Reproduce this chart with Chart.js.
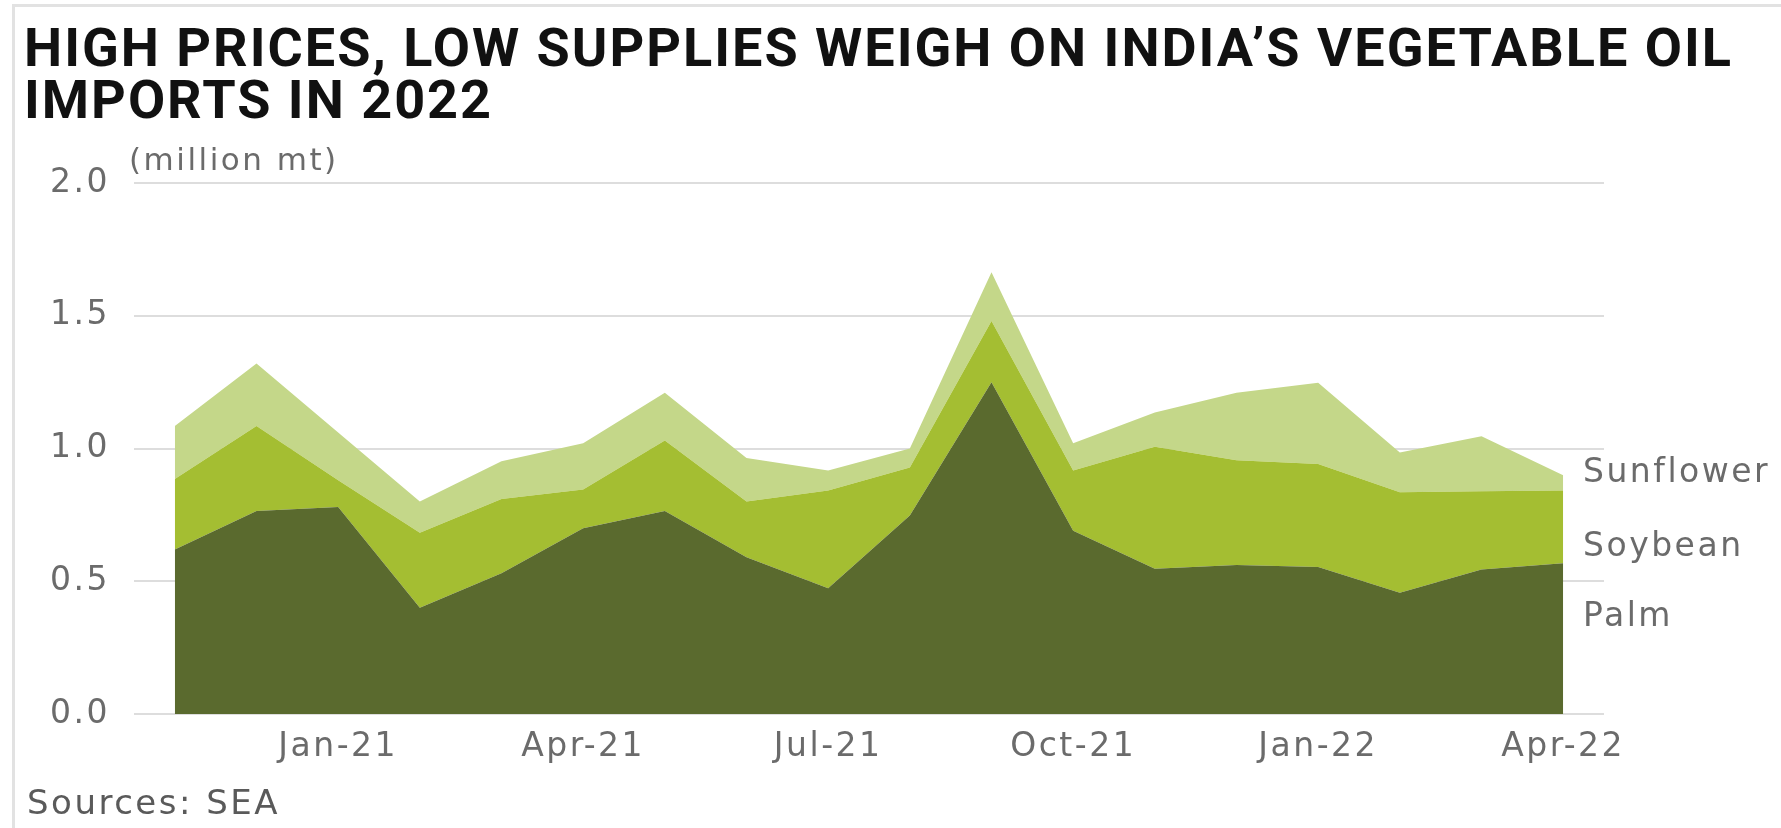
<!DOCTYPE html>
<html>
<head>
<meta charset="utf-8">
<title>India vegetable oil imports</title>
<script src="https://cdn.jsdelivr.net/npm/chart.js@4/dist/chart.umd.min.js"></script>
<style>
  html, body { margin: 0; padding: 0; background: #fff; }
  body { width: 1781px; height: 828px; position: relative; overflow: hidden; }
  .frame {
    position: absolute; left: 12px; top: 4px; right: -10px; bottom: -10px;
    border-top: 3px solid #e2e2e2; border-left: 3px solid #e2e2e2;
  }
  .title {
    position: absolute; left: 24px; top: 22px; margin: 0;
    font: 700 54px/52px Roboto, sans-serif; letter-spacing: 2px; color: #111;
  }
  .source {
    position: absolute; left: 27px; top: 782px;
    font: 34px "DejaVu Sans", sans-serif; letter-spacing: 2.5px; color: #5a5a5a;
  }
  #chart { position: absolute; left: 0; top: 0; }
</style>
</head>
<body>
<div class="frame"></div>
<h1 class="title">HIGH PRICES, LOW SUPPLIES WEIGH ON INDIA’S VEGETABLE OIL<br>IMPORTS IN 2022</h1>
<canvas id="chart" width="1781" height="828"></canvas>
<div class="source">Sources: SEA</div>

<script>
// monthly imports, million mt
const months = ['Nov-20', 'Dec-20', 'Jan-21', 'Feb-21', 'Mar-21', 'Apr-21', 'May-21', 'Jun-21', 'Jul-21',
                'Aug-21', 'Sep-21', 'Oct-21', 'Nov-21', 'Dec-21', 'Jan-22', 'Feb-22', 'Mar-22', 'Apr-22'];
const palm      = [0.62, 0.765, 0.78, 0.40, 0.53, 0.70, 0.765, 0.59, 0.474, 0.748, 1.25, 0.69, 0.547, 0.561, 0.554, 0.457, 0.544, 0.568];
const soybean   = [0.265, 0.32, 0.10, 0.283, 0.28, 0.146, 0.265, 0.21, 0.368, 0.18, 0.23, 0.227, 0.46, 0.395, 0.388, 0.378, 0.295, 0.274];
const sunflower = [0.20, 0.235, 0.18, 0.117, 0.142, 0.174, 0.18, 0.164, 0.075, 0.072, 0.184, 0.103, 0.129, 0.254, 0.306, 0.15, 0.207, 0.057];
const shownTicks = ['Jan-21', 'Apr-21', 'Jul-21', 'Oct-21', 'Jan-22', 'Apr-22'];
const yTicks = [0, 0.5, 1.0, 1.5, 2.0];

const FONT = '"DejaVu Sans", sans-serif';
const GREY = '#6b6b6b';

const area = (label, data, color, fill) => ({
  label, data, fill,
  backgroundColor: color,
  borderWidth: 0,
  pointRadius: 0,
  tension: 0
});

// wide tracking for every canvas text
const spacing = {
  id: 'spacing',
  beforeUpdate(chart) { chart.ctx.letterSpacing = '2.5px'; },
  beforeDraw(chart) { chart.ctx.letterSpacing = '2.5px'; }
};

// unit caption + series names at the right end
const labels = {
  id: 'labels',
  afterDraw(chart) {
    const { ctx, scales: { y } } = chart;
    ctx.save();
    ctx.letterSpacing = '2.5px';
    ctx.fillStyle = GREY;
    ctx.textBaseline = 'alphabetic';
    ctx.font = `31px ${FONT}`;
    ctx.fillText('(million mt)', 129, 170);
    ctx.font = `33px ${FONT}`;
    [['Sunflower', 0.872], ['Soybean', 0.594], ['Palm', 0.331]].forEach(([t, v]) => {
      ctx.fillText(t, 1583, y.getPixelForValue(v));
    });
    ctx.restore();
  }
};

new Chart(document.getElementById('chart'), {
  type: 'line',
  data: {
    labels: months,
    datasets: [
      area('Palm', palm, '#5a6a2e', 'origin'),
      area('Soybean', soybean, '#a4be32', '-1'),
      area('Sunflower', sunflower, '#c4d789', '-1')
    ]
  },
  options: {
    responsive: false,
    animation: false,
    events: [],
    layout: { padding: { top: 183, right: 177, left: 0, bottom: 0 } },
    plugins: { legend: { display: false }, tooltip: { enabled: false } },
    scales: {
      x: {
        offset: true,
        grid: { display: false, drawTicks: false },
        border: { display: false },
        afterFit: s => { s.height = 114; },
        ticks: {
          autoSkip: false, maxRotation: 0, padding: 14,
          color: GREY, font: { family: FONT, size: 33 },
          callback(v) { const l = this.getLabelForValue(v); return shownTicks.includes(l) ? l : ''; }
        }
      },
      y: {
        stacked: true,
        min: 0, max: 2,
        afterBuildTicks: s => { s.ticks = yTicks.map(value => ({ value })); },
        afterFit: s => { s.width = 134; },
        grid: { color: '#dddddd', lineWidth: 2, drawTicks: false },
        border: { display: false },
        ticks: {
          padding: 24, color: GREY, font: { family: FONT, size: 33 },
          callback: v => v.toFixed(1)
        }
      }
    }
  },
  plugins: [spacing, labels]
});
</script>
</body>
</html>
